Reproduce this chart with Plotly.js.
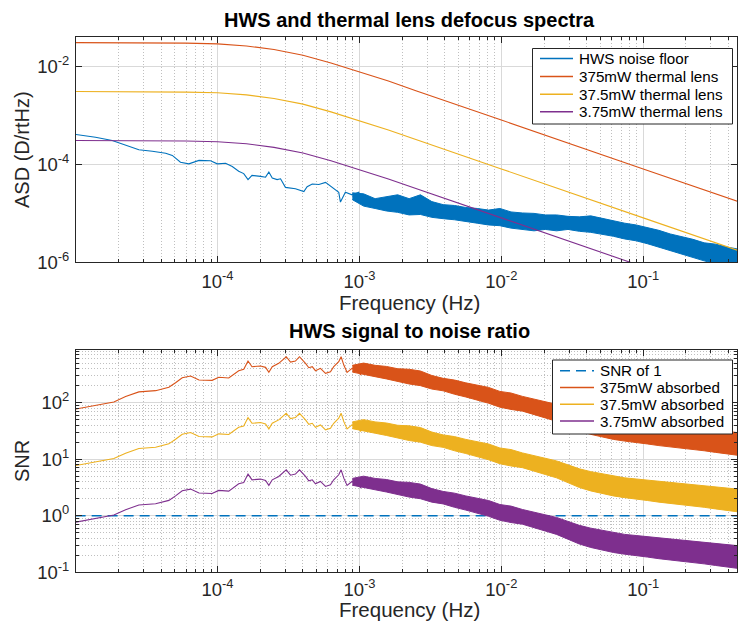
<!DOCTYPE html>
<html>
<head>
<meta charset="utf-8">
<script src="https://cdn.plot.ly/plotly-3.0.1.min.js"></script>
<style>html,body{margin:0;padding:0;background:#fff;}#chart{width:738px;height:631px;}</style>
</head>
<body>
<div id="chart"></div>
<script>
// ---------- Data ----------
// Top panel: HWS noise floor, low-frequency part (single line)
const freqNoiseLow = [1.00e-5, 1.38e-5, 1.81e-5, 2.25e-5, 2.79e-5, 3.47e-5, 4.31e-5, 4.80e-5, 5.48e-5, 6.28e-5, 7.40e-5, 8.93e-5, 9.95e-5, 1.14e-4, 1.27e-4, 1.41e-4, 1.53e-4, 1.64e-4, 1.75e-4, 2.01e-4, 2.18e-4, 2.30e-4, 2.43e-4, 2.63e-4, 2.78e-4, 3.01e-4, 3.54e-4, 4.06e-4, 4.28e-4, 4.65e-4, 5.18e-4, 5.77e-4, 6.43e-4, 7.15e-4, 7.35e-4, 7.96e-4, 8.87e-4, 9.89e-4, 1.04e-3, 1.16e-3, 1.30e-3];
const asdNoiseLow = [4.10e-4, 3.61e-4, 3.10e-4, 2.45e-4, 2.00e-4, 1.87e-4, 1.70e-4, 1.53e-4, 1.11e-4, 1.03e-4, 1.21e-4, 1.19e-4, 1.03e-4, 1.06e-4, 9.1e-5, 7.3e-5, 6.5e-5, 4.9e-5, 6.0e-5, 5.7e-5, 5.5e-5, 7.0e-5, 5.3e-5, 4.9e-5, 5.1e-5, 3.4e-5, 3.2e-5, 2.8e-5, 3.5e-5, 4.0e-5, 3.9e-5, 4.3e-5, 3.4e-5, 2.7e-5, 1.7e-5, 2.7e-5, 2.4e-5, 2.7e-5, 1.6e-5, 2.0e-5, 1.8e-5];
// Dense high-frequency part: frequencies where the band edges were read
const freqBand = [8.91e-4, 1.07e-3, 1.29e-3, 1.55e-3, 1.86e-3, 2.24e-3, 2.69e-3, 3.24e-3, 3.89e-3, 4.68e-3, 5.62e-3, 6.76e-3, 8.13e-3, 9.77e-3, 1.17e-2, 1.41e-2, 1.70e-2, 2.04e-2, 2.45e-2, 2.95e-2, 3.55e-2, 4.27e-2, 5.13e-2, 6.17e-2, 7.41e-2, 8.91e-2, 0.107, 0.129, 0.155, 0.186, 0.224, 0.269, 0.324, 0.389, 0.468];
// Top panel: HWS noise floor band (upper / lower envelope)
const asdBandUpper = [2.63e-5, 2.51e-5, 2.00e-5, 2.19e-5, 2.40e-5, 2.00e-5, 2.40e-5, 1.74e-5, 1.51e-5, 1.45e-5, 1.32e-5, 1.26e-5, 1.17e-5, 1.26e-5, 1.07e-5, 1.02e-5, 1.00e-5, 9.3e-6, 9.3e-6, 8.7e-6, 8.5e-6, 8.9e-6, 7.9e-6, 7.2e-6, 6.3e-6, 5.8e-6, 5.2e-6, 4.5e-6, 3.8e-6, 3.4e-6, 2.95e-6, 2.5e-6, 2.35e-6, 2.05e-6, 1.86e-6];
const asdBandLower = [1.91e-5, 1.41e-5, 1.26e-5, 1.12e-5, 1.05e-5, 9.3e-6, 9.5e-6, 8.3e-6, 7.8e-6, 7.4e-6, 6.9e-6, 6.3e-6, 5.8e-6, 5.6e-6, 5.0e-6, 4.7e-6, 4.4e-6, 4.7e-6, 4.4e-6, 4.7e-6, 4.3e-6, 4.1e-6, 3.8e-6, 3.4e-6, 3.0e-6, 2.75e-6, 2.4e-6, 2.0e-6, 1.70e-6, 1.45e-6, 1.26e-6, 1.07e-6, 9.3e-7, 8.3e-7, 7.6e-7];
// Top panel: thermal lens spectra
const freqThermal = [1e-5, 3e-5, 6e-5, 1e-4, 1.6e-4, 2.5e-4, 4e-4, 6.3e-4, 1e-3, 1.6e-3, 2.5e-3, 4e-3, 1e-2, 0.1, 0.5];
const asd375 = [3.10e-2, 3.09e-2, 3.02e-2, 2.92e-2, 2.65e-2, 2.24e-2, 1.71e-2, 1.19e-2, 7.9e-3, 5.07e-3, 3.23e-3, 2.04e-3, 8.1e-4, 8.1e-5, 1.63e-5];
const asd37 = [3.10e-3, 3.09e-3, 3.02e-3, 2.92e-3, 2.65e-3, 2.24e-3, 1.71e-3, 1.19e-3, 7.9e-4, 5.07e-4, 3.23e-4, 2.04e-4, 8.1e-5, 8.1e-6, 1.63e-6];
const asd3 = [3.10e-4, 3.09e-4, 3.02e-4, 2.92e-4, 2.65e-4, 2.24e-4, 1.71e-4, 1.19e-4, 7.9e-5, 5.07e-5, 3.23e-5, 2.04e-5, 8.1e-6, 8.1e-7, 1.63e-7];

// Bottom panel: SNR, low-frequency single lines
const freqSnrLow = [1.00e-5, 1.38e-5, 1.86e-5, 2.25e-5, 2.79e-5, 3.66e-5, 4.54e-5, 5.06e-5, 5.64e-5, 6.46e-5, 7.40e-5, 9.16e-5, 1.02e-4, 1.20e-4, 1.41e-4, 1.53e-4, 1.64e-4, 1.75e-4, 2.01e-4, 2.18e-4, 2.30e-4, 2.43e-4, 2.70e-4, 3.05e-4, 3.27e-4, 3.54e-4, 3.78e-4, 4.17e-4, 4.40e-4, 4.65e-4, 4.90e-4, 5.31e-4, 5.77e-4, 6.25e-4, 6.59e-4, 7.15e-4, 7.43e-4, 7.76e-4, 8.18e-4, 8.87e-4, 9.89e-4, 1.02e-3, 1.04e-3, 1.16e-3, 1.30e-3];
const snr375Low = [77, 90, 103, 128, 155, 163, 187, 225, 276, 296, 252, 248, 281, 273, 367, 388, 545, 432, 445, 421, 344, 432, 496, 649, 522, 545, 649, 496, 415, 432, 367, 404, 330, 352, 432, 530, 649, 462, 344, 404, 378, 308, 462, 462, 378];
const snr37Low = [7.7, 9.0, 10.3, 12.8, 15.5, 16.3, 18.7, 22.5, 27.6, 29.6, 25.2, 24.8, 28.1, 27.3, 36.7, 38.8, 54.5, 43.2, 44.5, 42.1, 34.4, 43.2, 49.6, 64.9, 52.2, 54.5, 64.9, 49.6, 41.5, 43.2, 36.7, 40.4, 33.0, 35.2, 43.2, 53.0, 64.9, 46.2, 34.4, 40.4, 37.8, 30.8, 46.2, 46.2, 37.8];
const snr3Low = [0.77, 0.90, 1.03, 1.28, 1.55, 1.63, 1.87, 2.25, 2.76, 2.96, 2.52, 2.48, 2.81, 2.73, 3.67, 3.88, 5.45, 4.32, 4.45, 4.21, 3.44, 4.32, 4.96, 6.49, 5.22, 5.45, 6.49, 4.96, 4.15, 4.32, 3.67, 4.04, 3.30, 3.52, 4.32, 5.30, 6.49, 4.62, 3.44, 4.04, 3.78, 3.08, 4.62, 4.62, 3.78];
// Bottom panel: SNR dense bands (upper / lower envelope), same frequencies as freqBand
const snr375Upper = [457, 501, 457, 437, 398, 389, 363, 302, 269, 251, 224, 204, 186, 158, 148, 129, 115, 105, 93.3, 79.4, 67.6, 60.3, 55.0, 50.1, 46.8, 44.7, 42.7, 39.8, 38.9, 36.3, 34.7, 33.1, 31.6, 30.2, 29.5];
const snr375Lower = [347, 316, 288, 263, 240, 214, 200, 174, 162, 141, 126, 112, 97.7, 83.2, 75.9, 70.8, 61.7, 53.7, 46.8, 38.0, 31.6, 27.5, 24.5, 22.4, 20.9, 20.0, 18.6, 17.4, 16.6, 15.8, 14.8, 14.1, 13.2, 12.3, 11.7];
const snr37Upper = [45.7, 50.1, 45.7, 43.7, 39.8, 38.9, 36.3, 30.2, 26.9, 25.1, 22.4, 20.4, 18.6, 15.8, 14.8, 12.9, 11.5, 10.5, 9.33, 7.94, 6.76, 6.03, 5.50, 5.01, 4.68, 4.47, 4.27, 3.98, 3.89, 3.63, 3.47, 3.31, 3.16, 3.02, 2.95];
const snr37Lower = [34.7, 31.6, 28.8, 26.3, 24.0, 21.4, 20.0, 17.4, 16.2, 14.1, 12.6, 11.2, 9.77, 8.32, 7.59, 7.08, 6.17, 5.37, 4.68, 3.80, 3.16, 2.75, 2.45, 2.24, 2.09, 2.00, 1.86, 1.74, 1.66, 1.58, 1.48, 1.41, 1.32, 1.23, 1.17];
const snr3Upper = [4.57, 5.01, 4.57, 4.37, 3.98, 3.89, 3.63, 3.02, 2.69, 2.51, 2.24, 2.04, 1.86, 1.58, 1.48, 1.29, 1.15, 1.05, 0.933, 0.794, 0.676, 0.603, 0.550, 0.501, 0.468, 0.447, 0.427, 0.398, 0.389, 0.363, 0.347, 0.331, 0.316, 0.302, 0.295];
const snr3Lower = [3.47, 3.16, 2.88, 2.63, 2.40, 2.14, 2.00, 1.74, 1.62, 1.41, 1.26, 1.12, 0.977, 0.832, 0.759, 0.708, 0.617, 0.537, 0.468, 0.380, 0.316, 0.275, 0.245, 0.224, 0.209, 0.200, 0.186, 0.174, 0.166, 0.158, 0.148, 0.141, 0.132, 0.123, 0.117];
// SNR of 1 reference line
const freqUnity = [1.0e-5, 0.5];
const snrUnity = [1, 1];

// Labels
const topTitle = 'HWS and thermal lens defocus spectra';
const bottomTitle = 'HWS signal to noise ratio';
const xLabel = 'Frequency (Hz)';
const yLabelTop = 'ASD (D/rtHz)';
const yLabelBottom = 'SNR';
const topNames = ['HWS noise floor', '375mW thermal lens', '37.5mW thermal lens', '3.75mW thermal lens'];
const bottomNames = ['SNR of 1', '375mW absorbed', '37.5mW absorbed', '3.75mW absorbed'];
const xTickVals = [1e-4, 1e-3, 1e-2, 1e-1];
const xTickText = ['10<sup>-4</sup>', '10<sup>-3</sup>', '10<sup>-2</sup>', '10<sup>-1</sup>'];
const yTopTickVals = [1e-6, 1e-4, 1e-2];
const yTopTickText = ['10<sup>-6</sup>', '10<sup>-4</sup>', '10<sup>-2</sup>'];
const yBotTickVals = [1e-1, 1, 10, 100];
const yBotTickText = ['10<sup>-1</sup>', '10<sup>0</sup>', '10<sup>1</sup>', '10<sup>2</sup>'];

// ---------- Styling ----------
const C_BLUE = '#0072BD', C_ORANGE = '#D95319', C_YELLOW = '#EDB120', C_PURPLE = '#7E2F8E';
const FONT = '"Liberation Sans", Arial, Helvetica, sans-serif';
const AX = '#262626';
const W = 738, H = 631;

function minorVals(lo, hi) {
  const out = [];
  for (let e = lo; e <= hi; e++) for (let m = 2; m <= 9; m++) out.push(m * Math.pow(10, e));
  return out;
}
function band(fx, up, lo) {
  return { x: fx.concat(fx.slice().reverse()), y: up.concat(lo.slice().reverse()) };
}

const bTop = band(freqBand, asdBandUpper, asdBandLower);
const b375 = band(freqBand, snr375Upper, snr375Lower);
const b37 = band(freqBand, snr37Upper, snr37Lower);
const b3 = band(freqBand, snr3Upper, snr3Lower);

const LW = 1.1;
const DASH = '10px,6px';
const traces = [
  // top
  {x: freqNoiseLow, y: asdNoiseLow, type: 'scatter', mode: 'lines', name: topNames[0], line: {color: C_BLUE, width: LW}, xaxis: 'x', yaxis: 'y'},
  {x: bTop.x, y: bTop.y, type: 'scatter', mode: 'lines', fill: 'toself', fillcolor: C_BLUE, line: {color: C_BLUE, width: 1}, xaxis: 'x', yaxis: 'y'},
  {x: freqThermal, y: asd375, type: 'scatter', mode: 'lines', name: topNames[1], line: {color: C_ORANGE, width: LW}, xaxis: 'x', yaxis: 'y'},
  {x: freqThermal, y: asd37, type: 'scatter', mode: 'lines', name: topNames[2], line: {color: C_YELLOW, width: LW}, xaxis: 'x', yaxis: 'y'},
  {x: freqThermal, y: asd3, type: 'scatter', mode: 'lines', name: topNames[3], line: {color: C_PURPLE, width: LW}, xaxis: 'x', yaxis: 'y'},
  // bottom
  {x: freqUnity, y: snrUnity, type: 'scatter', mode: 'lines', name: bottomNames[0], line: {color: C_BLUE, width: 1.5, dash: DASH}, xaxis: 'x2', yaxis: 'y2'},
  {x: freqSnrLow, y: snr375Low, type: 'scatter', mode: 'lines', name: bottomNames[1], line: {color: C_ORANGE, width: LW}, xaxis: 'x2', yaxis: 'y2'},
  {x: b375.x, y: b375.y, type: 'scatter', mode: 'lines', fill: 'toself', fillcolor: C_ORANGE, line: {color: C_ORANGE, width: 1}, xaxis: 'x2', yaxis: 'y2'},
  {x: freqSnrLow, y: snr37Low, type: 'scatter', mode: 'lines', name: bottomNames[2], line: {color: C_YELLOW, width: LW}, xaxis: 'x2', yaxis: 'y2'},
  {x: b37.x, y: b37.y, type: 'scatter', mode: 'lines', fill: 'toself', fillcolor: C_YELLOW, line: {color: C_YELLOW, width: 1}, xaxis: 'x2', yaxis: 'y2'},
  {x: freqSnrLow, y: snr3Low, type: 'scatter', mode: 'lines', name: bottomNames[3], line: {color: C_PURPLE, width: LW}, xaxis: 'x2', yaxis: 'y2'},
  {x: b3.x, y: b3.y, type: 'scatter', mode: 'lines', fill: 'toself', fillcolor: C_PURPLE, line: {color: C_PURPLE, width: 1}, xaxis: 'x2', yaxis: 'y2'}
];

const xDomain = [76 / W, 737 / W];
const xRange = [Math.log10(1.006e-5), Math.log10(0.458)];
function baseAxis(extra) {
  return Object.assign({
    type: 'log', showline: true, linecolor: AX, linewidth: 1, mirror: 'allticks',
    ticks: 'inside', ticklen: 6, tickwidth: 1, tickcolor: AX,
    showgrid: true, gridcolor: '#d9d9d9', gridwidth: 1, zeroline: false,
    tickfont: {family: FONT, size: 18.5, color: AX}, tickmode: 'array'
  }, extra);
}
const minorStyle = {ticks: 'inside', ticklen: 3, tickwidth: 1, tickcolor: AX, showgrid: true, gridcolor: '#bfbfbf', griddash: '1px,2px', gridwidth: 1, tickmode: 'array'};

// Legend boxes (paper pixels, measured from reference)
const legendSpecs = [
  {box: [532.5, 48.5, 732.5, 124], lineX: [540, 573], textX: 577, rows: [58.5, 76.5, 94.3, 111.8],
   names: topNames, colors: [C_BLUE, C_ORANGE, C_YELLOW, C_PURPLE], dashes: ['solid', 'solid', 'solid', 'solid']},
  {box: [552.5, 360, 732.5, 434], lineX: [560, 594], textX: 598, rows: [370.7, 387.5, 404.3, 421],
   names: bottomNames, colors: [C_BLUE, C_ORANGE, C_YELLOW, C_PURPLE], dashes: [DASH, 'solid', 'solid', 'solid']}
];
const px = v => v / W, py = v => 1 - v / H;
const shapes = [];
const annotations = [
  {text: '<b>' + topTitle + '</b>', x: px(409), y: py(20), xanchor: 'center', yanchor: 'middle', font: {family: FONT, size: 20, color: '#000'}},
  {text: '<b>' + bottomTitle + '</b>', x: px(409), y: py(331), xanchor: 'center', yanchor: 'middle', font: {family: FONT, size: 20, color: '#000'}},
  {text: xLabel, x: px(409), y: py(302.5), xanchor: 'center', yanchor: 'middle', font: {family: FONT, size: 20.5, color: AX}},
  {text: xLabel, x: px(409), y: py(609.5), xanchor: 'center', yanchor: 'middle', font: {family: FONT, size: 20.5, color: AX}},
  {text: yLabelTop, x: px(22), y: py(150), xanchor: 'center', yanchor: 'middle', textangle: -90, font: {family: FONT, size: 20, color: AX}},
  {text: yLabelBottom, x: px(22), y: py(461), xanchor: 'center', yanchor: 'middle', textangle: -90, font: {family: FONT, size: 20, color: AX}}
];
legendSpecs.forEach(L => {
  shapes.push({type: 'rect', xref: 'paper', yref: 'paper', layer: 'above', x0: px(L.box[0]), x1: px(L.box[2]), y0: py(L.box[3]), y1: py(L.box[1]),
    line: {color: AX, width: 1}, fillcolor: '#fff'});
  L.names.forEach((n, i) => {
    shapes.push({type: 'line', xref: 'paper', yref: 'paper', layer: 'above', x0: px(L.lineX[0]), x1: px(L.lineX[1]), y0: py(L.rows[i]), y1: py(L.rows[i]),
      line: {color: L.colors[i], width: L.dashes[i] !== 'solid' ? 1.5 : 1.4, dash: L.dashes[i]}});
    annotations.push({text: n, x: px(L.textX), y: py(L.rows[i]), xanchor: 'left', yanchor: 'middle', font: {family: FONT, size: 15.2, color: '#000'}});
  });
});
annotations.forEach(a => { a.xref = 'paper'; a.yref = 'paper'; a.showarrow = false; });

const layout = {
  width: W, height: H, margin: {l: 0, r: 0, t: 0, b: 0},
  paper_bgcolor: '#fff', plot_bgcolor: '#fff',
  font: {family: FONT, color: AX, size: 15},
  showlegend: false,
  xaxis: baseAxis({domain: xDomain, range: xRange, anchor: 'y', tickvals: xTickVals, ticktext: xTickText, ticklabelstandoff: 2,
    minor: Object.assign({tickvals: minorVals(-5, -1)}, minorStyle)}),
  yaxis: baseAxis({domain: [1 - 262.3 / H, 1 - 37.3 / H], range: [-6, -1.4], anchor: 'x', tickvals: yTopTickVals, ticktext: yTopTickText, ticklabelstandoff: 2}),
  xaxis2: baseAxis({domain: xDomain, range: xRange, anchor: 'y2', tickvals: xTickVals, ticktext: xTickText, ticklabelstandoff: 0,
    minor: Object.assign({tickvals: minorVals(-5, -1)}, minorStyle)}),
  yaxis2: baseAxis({domain: [1 - 572.3 / H, 1 - 349.5 / H], range: [-1, 2.94], anchor: 'x2', tickvals: yBotTickVals, ticktext: yBotTickText, ticklabelstandoff: 2,
    minor: Object.assign({tickvals: minorVals(-1, 2)}, minorStyle)}),
  shapes: shapes,
  annotations: annotations
};

Plotly.newPlot('chart', traces, layout, {staticPlot: true, displayModeBar: false});
</script>
</body>
</html>
